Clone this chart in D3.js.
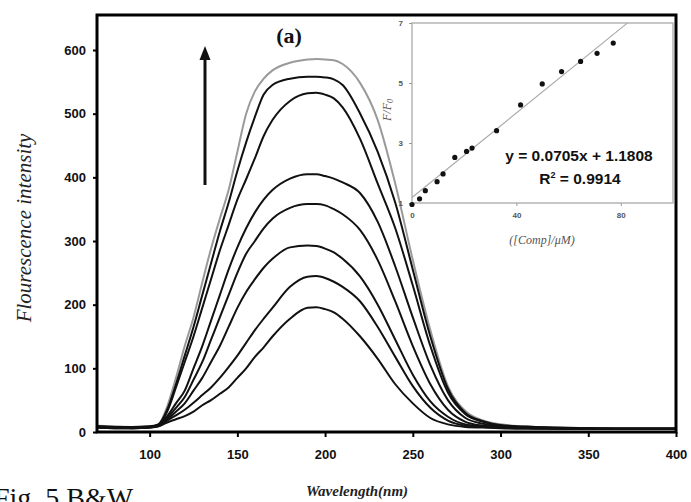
<!DOCTYPE html>
<html><head><meta charset="utf-8">
<script src="https://cdn.jsdelivr.net/npm/d3@7"></script>
<style>body{margin:0;background:#fff;overflow:hidden}</style>
</head><body><svg id="c" width="691" height="502"></svg>
<script>
// ---------- main chart data ----------
const wavelengths = [70,80,90,100,105,110,115,120,125,130,135,140,145,150,155,160,165,170,180,190,195,200,205,210,220,230,240,250,260,270,280,290,300,320,350,380,400];
const intensity585 = [10,9,8,9,12,40,85,135,180,235,288,335,380,440,500,535,555,568,580,585,586,585,584,578,548,490,390,270,160,72,33,18,12,8,6,5,5];
const intensity558 = [9,8,8,9,12,35,75,120,165,215,265,315,360,410,455,495,530,545,555,558,558,557,554,545,500,440,360,255,150,68,30,17,11,8,6,5,5];
const intensity533 = [9,8,8,8,11,32,70,110,150,195,240,285,325,365,397,430,465,490,520,532,533,530,524,510,460,390,320,230,135,62,28,16,10,7,6,5,5];
const intensity405 = [8,8,7,8,11,25,45,65,100,135,175,215,255,290,320,345,365,380,398,405,405,402,398,392,375,330,260,180,105,50,22,13,9,7,5,5,5];
const intensity358 = [8,7,7,8,10,22,38,55,82,110,145,180,215,250,280,300,320,335,352,358,358,356,350,342,317,270,205,135,75,35,16,10,8,6,5,5,5];
const intensity293 = [7,7,6,7,10,20,32,45,65,85,110,135,165,195,220,240,258,272,290,293,292,288,282,272,244,200,145,90,48,24,12,9,7,6,5,5,5];
const intensity245 = [7,6,6,7,9,18,26,35,46,58,70,85,102,120,140,160,178,195,228,244,245,242,236,228,205,165,118,72,38,18,10,8,7,6,5,5,5];
const intensity196 = [7,6,6,7,9,15,20,25,32,42,50,60,70,85,100,118,133,150,178,195,196,193,188,178,150,115,75,45,22,12,8,7,6,5,5,5,5];
const xTickValues = [100,150,200,250,300,350,400];
const yTickValues = [0,100,200,300,400,500,600];

// ---------- inset data ----------
const concentration = [0,2.9,5.1,9.6,11.9,16.4,20.9,23.0,32.4,41.6,49.9,57.3,64.6,70.9,77.1];
const ratioFF0 = [0.95,1.14,1.41,1.71,1.97,2.52,2.72,2.83,3.41,4.27,4.97,5.38,5.72,5.99,6.33];
const fitSlope = 0.0705, fitIntercept = 1.1808;
const fitXRange = [0, 82.6];
const insetXTickValues = [0,40,80];
const insetYTickValues = [1,3,5,7];

// ---------- drawing ----------
const svg = d3.select("#c");
const x = d3.scaleLinear().domain([70,400]).range([97,676]);
const y = d3.scaleLinear().domain([0,655]).range([432,15]);

const series = [
  {v:intensity585, gray:true},{v:intensity558},{v:intensity533},{v:intensity405},
  {v:intensity358},{v:intensity293},{v:intensity245},{v:intensity196}
];
const line = d3.line().x((d,i)=>x(wavelengths[i])).y(d=>y(d)).curve(d3.curveMonotoneX);
svg.append("g").selectAll("path").data(series).join("path")
  .attr("d", d=>line(d.v)).attr("fill","none")
  .attr("stroke", d=>d.gray?"#9a9a9a":"#111").attr("stroke-width", 2);

// axes
const xAxis = svg.append("g").attr("transform","translate(0,432)")
  .call(d3.axisBottom(x).tickValues(xTickValues).tickSize(5).tickPadding(13));
const yAxis = svg.append("g").attr("transform","translate(97,0)")
  .call(d3.axisLeft(y).tickValues(yTickValues).tickSize(4).tickPadding(7));
[xAxis,yAxis].forEach(g=>{
  g.select(".domain").remove();
  g.selectAll(".tick line").attr("stroke","#000").attr("stroke-width",2);
  g.selectAll(".tick text").attr("font-family","Liberation Sans, Arial, sans-serif")
    .attr("font-weight","bold").attr("font-size",13).attr("fill","#111");
});
// frame
svg.append("rect").attr("x",97).attr("y",15).attr("width",579).attr("height",417)
  .attr("fill","none").attr("stroke","#000").attr("stroke-width",3);

// axis titles
svg.append("text").attr("transform","translate(31,228) rotate(-90)")
  .attr("text-anchor","middle").attr("font-family","Liberation Serif, Times New Roman, serif")
  .attr("font-style","italic").attr("font-size",21).attr("fill","#222").text("Flourescence intensity");
svg.append("text").attr("x",357).attr("y",496).attr("text-anchor","middle")
  .attr("font-family","Liberation Serif, Times New Roman, serif").attr("font-style","italic")
  .attr("font-weight","bold").attr("font-size",15).attr("fill","#222").text("Wavelength(nm)");

// caption fragment (cut by the lower edge, as in the reference)
svg.append("text").attr("x",-6).attr("y",507)
  .attr("font-family","Liberation Serif, Times New Roman, serif").attr("font-size",28)
  .attr("fill","#111").text("Fig. 5  B&W");

// panel label
svg.append("text").attr("x",289).attr("y",43).attr("text-anchor","middle")
  .attr("font-family","Liberation Serif, Times New Roman, serif").attr("font-weight","bold")
  .attr("font-size",22).attr("fill","#111").text("(a)");

// arrow
svg.append("line").attr("x1",205).attr("y1",185).attr("x2",205).attr("y2",58)
  .attr("stroke","#111").attr("stroke-width",3);
svg.append("path").attr("d","M205,46 L199.5,60 L210.5,60 Z").attr("fill","#111");

// ---------- inset ----------
const ix = d3.scaleLinear().domain([0,100]).range([412,673]);
const iy = d3.scaleLinear().domain([1,7]).range([203,23]);
const inset = svg.append("g");
inset.append("rect").attr("x",412).attr("y",23).attr("width",261).attr("height",180)
  .attr("fill","#fff").attr("stroke","#b5b5b5").attr("stroke-width",1.5);
const ixAxis = inset.append("g").attr("transform","translate(0,203)")
  .call(d3.axisBottom(ix).tickValues(insetXTickValues).tickFormat(d3.format("d")).tickSize(3).tickPadding(6));
const iyAxis = inset.append("g").attr("transform","translate(412,0)")
  .call(d3.axisLeft(iy).tickValues(insetYTickValues).tickFormat(d3.format("d")).tickSize(3).tickPadding(6));
[ixAxis,iyAxis].forEach(g=>{
  g.select(".domain").remove();
  g.selectAll(".tick line").attr("stroke","#999").attr("stroke-width",1);
  g.selectAll(".tick text").attr("font-family","Liberation Sans, Arial, sans-serif")
    .attr("font-weight","bold").attr("font-size",8).attr("fill","#555");
});
inset.append("line")
  .attr("x1",ix(fitXRange[0])).attr("y1",iy(fitSlope*fitXRange[0]+fitIntercept))
  .attr("x2",ix(fitXRange[1])).attr("y2",iy(fitSlope*fitXRange[1]+fitIntercept))
  .attr("stroke","#aaa").attr("stroke-width",1.2);
inset.append("g").selectAll("circle").data(concentration).join("circle")
  .attr("cx",d=>ix(d)).attr("cy",(d,i)=>iy(ratioFF0[i])).attr("r",2.6).attr("fill","#111");
inset.append("text").attr("x",579).attr("y",161).attr("text-anchor","middle")
  .attr("font-family","Liberation Sans, Arial, sans-serif").attr("font-weight","bold")
  .attr("font-size",15.5).attr("fill","#111").text("y = 0.0705x + 1.1808");
const r2 = inset.append("text").attr("x",580).attr("y",184).attr("text-anchor","middle")
  .attr("font-family","Liberation Sans, Arial, sans-serif").attr("font-weight","bold")
  .attr("font-size",15.5).attr("fill","#111");
r2.append("tspan").text("R");
r2.append("tspan").attr("font-size",9).attr("dy",-6).text("2");
r2.append("tspan").attr("dy",6).text(" = 0.9914");
const fl = inset.append("text").attr("transform","translate(391,110) rotate(-90)")
  .attr("text-anchor","middle").attr("font-family","Liberation Serif, Times New Roman, serif")
  .attr("font-style","italic").attr("font-size",12).attr("fill","#555");
fl.append("tspan").text("F/F");
fl.append("tspan").attr("font-size",8).attr("dy",2).text("0");
inset.append("text").attr("x",542).attr("y",244).attr("text-anchor","middle")
  .attr("font-family","Liberation Serif, Times New Roman, serif").attr("font-style","italic")
  .attr("font-size",12).attr("fill","#555").text("([Comp]/μM)");
</script></body></html>
